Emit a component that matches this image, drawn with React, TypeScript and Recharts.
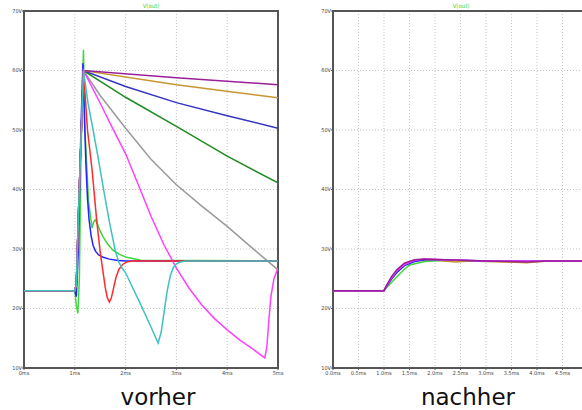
import React from 'react';
import { LineChart, Line, XAxis, YAxis, CartesianGrid, ReferenceArea } from 'recharts';

// left plot ("vorher"): [time ms, volts]
const purpleA = [[0, 23], [1, 23], [1.03, 24], [1.08, 38], [1.17, 60], [3, 58.8], [5, 57.6]];
const goldA = [[0, 23], [1, 23], [1.03, 24], [1.08, 38], [1.17, 60], [3, 57.6], [5, 55.4]];
const navyA = [[0, 23], [1, 23], [1.03, 24], [1.08, 38], [1.17, 60], [2, 57.3], [3, 54.6], [4, 52.4], [5, 50.3]];
const darkGreenA = [[0, 23], [1, 23], [1.03, 24], [1.08, 38], [1.17, 60], [2, 55.5], [3, 50.6], [4, 45.6], [5, 41.1]];
const grayA = [[0, 23], [1, 23], [1.03, 24], [1.08, 38], [1.17, 60], [1.5, 55.8], [2, 50.3], [2.5, 45.1], [3, 40.8], [3.5, 37.2], [4, 33.8], [4.5, 30.1], [5, 26.5]];
const magentaA = [[0, 23], [1, 23], [1.03, 24], [1.08, 38], [1.17, 60], [1.5, 54.5], [1.75, 50.2], [2, 46], [2.25, 40.8], [2.5, 35.5], [2.75, 30.8], [3, 26.8], [3.25, 23.4], [3.5, 20.6], [3.75, 18.3], [4, 16.4], [4.25, 14.7], [4.5, 13.2], [4.74, 11.7], [4.78, 13.5], [4.82, 18], [4.86, 22], [4.92, 25], [5, 26.8]];
const cyanA = [[0, 23], [1, 23], [1.03, 24], [1.08, 38], [1.17, 60], [1.26, 54.5], [1.36, 50], [1.46, 45.3], [1.56, 40.3], [1.68, 34.6], [1.79, 30], [1.86, 27.9], [1.93, 26.8], [2, 26], [2.3, 20.6], [2.5, 16.9], [2.64, 14.2], [2.7, 16], [2.76, 19.5], [2.82, 23], [2.88, 25.5], [2.94, 26.9], [3, 27.5], [3.08, 27.8], [3.2, 28], [5, 28]];
const redA = [[0, 23], [1, 23], [1.03, 24], [1.08, 38], [1.17, 60], [1.25, 50], [1.34, 43.3], [1.43, 34.9], [1.5, 29.5], [1.55, 26.5], [1.6, 23.5], [1.64, 21.8], [1.68, 21.1], [1.72, 21.8], [1.76, 23.3], [1.81, 25.2], [1.87, 26.6], [1.94, 27.4], [2.02, 27.8], [2.12, 28], [5, 28]];
const greenA = [[0, 23], [1, 23], [1.03, 20.5], [1.06, 19.2], [1.09, 25], [1.12, 45], [1.17, 63.5], [1.2, 50], [1.27, 38], [1.34, 33.5], [1.37, 34.5], [1.4, 34.9], [1.44, 34.3], [1.5, 33], [1.56, 32], [1.65, 30.8], [1.75, 29.8], [1.88, 29.1], [2.02, 28.6], [2.3, 28.1], [5, 28]];
const blueA = [[0, 23], [1, 23], [1.03, 22], [1.07, 30], [1.12, 50], [1.16, 61.2], [1.19, 52], [1.22, 44], [1.25, 38.5], [1.28, 35], [1.32, 32.3], [1.36, 30.6], [1.41, 29.6], [1.47, 29], [1.56, 28.6], [1.68, 28.3], [1.85, 28.05], [2, 28], [5, 28]];

// right plot ("nachher")
const purpleB = [[0, 23], [1, 23], [1.05, 23.9], [1.15, 25.4], [1.25, 26.5], [1.4, 27.6], [1.6, 28.2], [1.8, 28.3], [2.2, 28.2], [3, 28], [3.8, 27.8], [4.2, 28], [5, 28]];
const magentaB = [[0, 23], [1, 23], [1.05, 23.8], [1.15, 25.2], [1.25, 26.3], [1.4, 27.4], [1.6, 28.1], [1.8, 28.3], [2.2, 28.2], [3, 28], [5, 28]];
const blueB = [[0, 23], [1, 23], [1.05, 23.7], [1.15, 25], [1.25, 26], [1.4, 27.2], [1.6, 27.9], [1.8, 28.2], [2.2, 28.2], [3, 28], [5, 28]];
const goldB = [[0, 23], [1, 23], [1.05, 23.7], [1.15, 25], [1.25, 26.1], [1.4, 27.3], [1.6, 28], [1.9, 28.2], [2.4, 27.8], [2.7, 28], [3.8, 27.7], [4.2, 28], [5, 28]];
const greenB = [[0, 23], [1, 23], [1.05, 23.5], [1.15, 24.4], [1.25, 25.3], [1.4, 26.6], [1.5, 27.3], [1.8, 27.9], [2.2, 28.1], [3, 28], [5, 28]];

const leftSeries = [
  { pts: grayA, color: '#9a9a9a' },
  { pts: darkGreenA, color: '#1f8a1f' },
  { pts: navyA, color: '#3434c4' },
  { pts: goldA, color: '#c8962e' },
  { pts: purpleA, color: '#991f99' },
  { pts: greenA, color: '#3fd63f' },
  { pts: blueA, color: '#2323ff' },
  { pts: magentaA, color: '#ff40ff' },
  { pts: redA, color: '#ff2a2a' },
  { pts: cyanA, color: '#3ec2c2' },
];
const rightSeries = [
  { pts: greenB, color: '#3fd63f' },
  { pts: goldB, color: '#c8962e' },
  { pts: blueB, color: '#2323ff' },
  { pts: magentaB, color: '#ff40ff' },
  { pts: purpleB, color: '#991f99' },
];

const yTicks = [10, 20, 30, 40, 50, 60, 70];
const leftXTicks = [0, 1, 2, 3, 4, 5];
const rightXTicks = [0, 0.5, 1, 1.5, 2, 2.5, 3, 3.5, 4, 4.5];

const toPts = (a: number[][]) => a.map(([t, v]) => ({ t, v }));
const tickStyle = { fontSize: 5.5, fill: '#444', fontFamily: 'DejaVu Sans Condensed, DejaVu Sans' };

const Plot: React.FC<{ series: { pts: number[][]; color: string }[]; xTicks: number[]; fmt: (v: number) => string; width: number; yWidth: number }> = ({ series, xTicks, fmt, width, yWidth }) => (
  <LineChart width={width} height={380} margin={{ top: 11, right: 12, left: 0, bottom: 0 }}>
    <CartesianGrid stroke="#c4c4c4" strokeDasharray="1 2" />
    <XAxis type="number" dataKey="t" domain={[0, 5]} ticks={xTicks} tickFormatter={fmt} height={12}
      tick={tickStyle} tickSize={2} tickMargin={1} axisLine={false} tickLine={{ stroke: '#555' }} allowDataOverflow interval={0} />
    <YAxis type="number" domain={[10, 70]} ticks={yTicks} tickFormatter={(v: number) => `${v}V`} width={yWidth}
      tick={tickStyle} tickSize={2} tickMargin={0} axisLine={false} tickLine={{ stroke: '#555' }} allowDataOverflow />
    <ReferenceArea x1={0} x2={5} y1={10} y2={70} fill="none" fillOpacity={0} stroke="#555" strokeWidth={2} ifOverflow="visible" />
    {series.map((s, i) => (
      <Line key={i} data={toPts(s.pts)} dataKey="v" type="linear" stroke={s.color} strokeWidth={1.5}
        dot={false} isAnimationActive={false} />
    ))}
  </LineChart>
);

export default function App() {
  return (
    <div style={{ position: 'fixed', left: 0, top: 0, width: 582, height: 410, overflow: 'hidden', background: '#fff' }}>
      <div style={{ position: 'absolute', left: 0, top: 0 }}>
        <Plot series={leftSeries} xTicks={leftXTicks} fmt={(v) => `${v}ms`} width={290} yWidth={24} />
      </div>
      <div style={{ position: 'absolute', left: 300, top: 0 }}>
        <Plot series={rightSeries} xTicks={rightXTicks} fmt={(v) => `${v.toFixed(1)}ms`} width={300} yWidth={33} />
      </div>
      <svg width={582} height={410} style={{ position: 'absolute', left: 0, top: 0, pointerEvents: 'none' }}>
        <text x={151} y={8} textAnchor="middle" fontSize={6} fill="#3fd63f" fontFamily="DejaVu Sans Condensed">V(out)</text>
        <text x={461} y={8} textAnchor="middle" fontSize={6} fill="#3fd63f" fontFamily="DejaVu Sans Condensed">V(out)</text>
        <text x={158} y={405} textAnchor="middle" fontSize={23} fill="#111" fontFamily="DejaVu Sans">vorher</text>
        <text x={468} y={405} textAnchor="middle" fontSize={23} fill="#111" fontFamily="DejaVu Sans">nachher</text>
      </svg>
    </div>
  );
}
